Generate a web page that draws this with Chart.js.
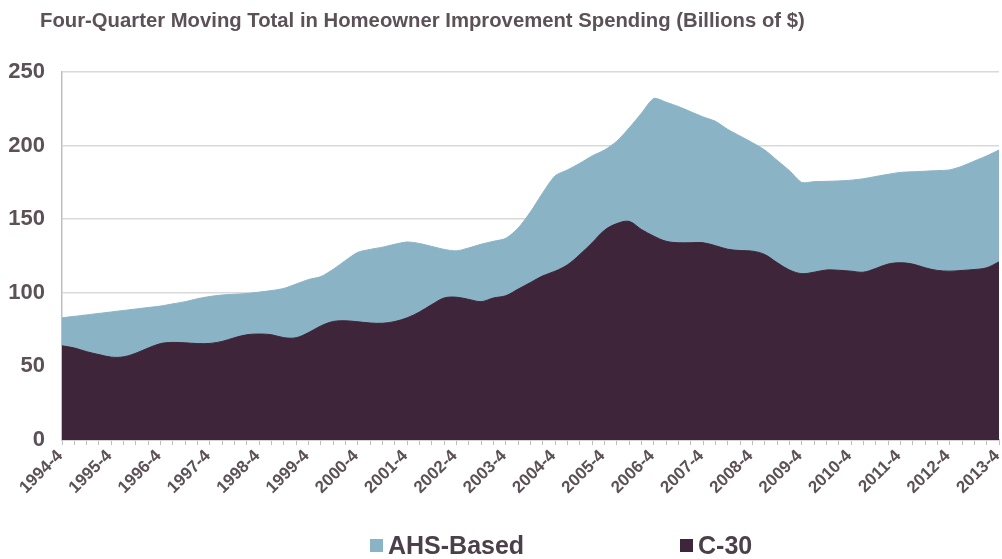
<!DOCTYPE html>
<html>
<head>
<meta charset="utf-8">
<script src="https://cdn.jsdelivr.net/npm/chart.js@4.4.1/dist/chart.umd.min.js"></script>
<style>
    html, body { margin: 0; padding: 0; background: #fff; }
    #wrap { position: relative; width: 1002px; height: 559px; }
    #title {
        position: absolute; left: 40px; top: 9px;
        font: bold 20.3px "Liberation Sans", Arial, sans-serif;
        color: #5b5157; white-space: nowrap;
    }
    #legend {
        position: absolute; left: 0; top: 531px; width: 1002px; height: 28px;
        font: bold 25px "Liberation Sans", Arial, sans-serif; color: #4b4049;
    }
    .item { position: absolute; top: 0; display: flex; align-items: center; height: 28px; }
    .box { width: 13px; height: 13px; margin-right: 5px; }
</style>
</head>
<body>
<div id="wrap">
    <canvas id="chart" width="1002" height="559"></canvas>
    <div id="title">Four-Quarter Moving Total in Homeowner Improvement Spending (Billions of $)</div>
    <div id="legend"></div>
</div>
<script>
// quarterly categories, 1994-4 .. 2013-4
const quarters = [];
for (let y = 1994; y <= 2013; y++) {
    for (let q = 1; q <= 4; q++) {
        if (y === 1994 && q < 4) continue;
        quarters.push(y + '-' + q);
    }
}

// Billions of $
const ahsBased = [
    83, 84, 85, 86, 87, 88, 89, 90, 91, 92.5, 94, 96, 97.5, 98.5, 99, 99.5,
    100.5, 101.5, 103, 106, 109, 111, 116, 122, 127.5, 129.5, 131, 133, 134.5, 133.5, 131.5, 129.5,
    128.5, 130.5, 133, 135, 137, 144, 155, 168, 179.5, 183.5, 188, 193, 197, 203, 212, 222,
    232, 229.5, 226.5, 223, 219.5, 216.5, 211, 206.5, 202, 197, 190, 183, 175, 175.5, 175.7, 176,
    176.5, 177.5, 179, 180.5, 181.8, 182.2, 182.6, 183, 183.5, 186, 189.5, 193, 197
];

const c30 = [
    64, 62.5, 60, 58, 56.3, 56.5, 59, 62.5, 65.5, 66.3, 66, 65.5, 65.6, 67, 69.5, 71.5,
    72, 71.5, 69.5, 69.5, 73, 77.5, 80.5, 81, 80.3, 79.5, 79.3, 80.5, 83, 87, 92, 96.5,
    97, 95.5, 94, 96.5, 98, 102.5, 107, 111.5, 114.7, 119, 126, 134, 142.5, 147, 148.5, 143,
    138.5, 135, 134, 134, 134, 132, 129.6, 128.7, 128.3, 126, 120.5, 115.5, 113, 114, 115.5, 115.3,
    114.7, 114, 116.5, 119.5, 120.4, 119.5, 117, 115.2, 114.7, 115.2, 115.8, 117, 121
];

const yTicks = [0, 50, 100, 150, 200, 250];

const series = [
    { label: 'AHS-Based', data: ahsBased, color: '#8ab4c5', tension: 0.25, order: 2 },
    { label: 'C-30', data: c30, color: '#3e2539', tension: 0.35, order: 1 }
];

const tickFont = { family: 'Liberation Sans', weight: 'bold' };
const textColor = '#5b5157';

new Chart(document.getElementById('chart'), {
    type: 'line',
    data: {
        labels: quarters,
        datasets: series.map(s => ({
            label: s.label,
            data: s.data,
            backgroundColor: s.color,
            borderColor: s.color,
            borderWidth: 1,
            fill: 'origin',
            pointRadius: 0,
            tension: s.tension,
            order: s.order
        }))
    },
    options: {
        responsive: false,
        animation: false,
        layout: { padding: { top: 72, right: 3, left: 0, bottom: 0 } },
        plugins: {
            legend: { display: false },
            tooltip: { enabled: false }
        },
        scales: {
            x: {
                offset: false,
                grid: { display: true, drawOnChartArea: false, drawTicks: true, tickLength: 5, color: '#bfbfbf' },
                border: { color: '#bfbfbf', width: 1.5 },
                ticks: {
                    autoSkip: false,
                    maxRotation: 45,
                    minRotation: 45,
                    padding: 1,
                    labelOffset: -2,
                    font: { ...tickFont, size: 17 },
                    color: textColor,
                    callback: function(value) {
                        const l = this.getLabelForValue(value);
                        return l.endsWith('-4') ? l : '';
                    }
                },
                afterFit: scale => {
                    scale.height = 119;
                    scale.paddingLeft = 0;
                    scale.paddingRight = 0;
                }
            },
            y: {
                min: 0,
                max: 250,
                afterBuildTicks: scale => { scale.ticks = yTicks.map(v => ({ value: v })); },
                grid: { color: '#d9d9d9', lineWidth: 1.5, drawTicks: false },
                border: { color: '#bfbfbf', width: 1.5 },
                ticks: { padding: 17, font: { ...tickFont, size: 22 }, color: textColor },
                afterFit: scale => { scale.width = 62; }
            }
        }
    }
});

// legend placed like the original
const legendPos = { 'AHS-Based': 370, 'C-30': 680 };
const legend = document.getElementById('legend');
series.forEach(s => {
    const item = document.createElement('div');
    item.className = 'item';
    item.style.left = legendPos[s.label] + 'px';
    item.innerHTML = '<span class="box" style="background:' + s.color + '"></span><span>' + s.label + '</span>';
    legend.appendChild(item);
});
</script>
</body>
</html>
